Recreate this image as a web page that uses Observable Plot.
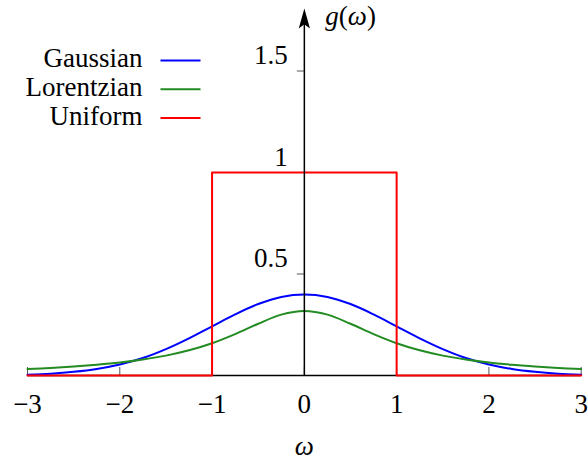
<!DOCTYPE html>
<html>
<head>
<meta charset="utf-8">
<script src="https://cdn.jsdelivr.net/npm/d3@7"></script>
<script src="https://cdn.jsdelivr.net/npm/@observablehq/plot@0.6"></script>
</head>
<body style="margin:0;background:#fff">
<div id="chart"></div>
<script>
// Sample frequencies and the three distributions g(ω)
const omega = [-3, -2.75, -2.5, -2.25, -2, -1.75, -1.5, -1.25, -1, -0.75, -0.5, -0.25, 0,
               0.25, 0.5, 0.75, 1, 1.25, 1.5, 1.75, 2, 2.25, 2.5, 2.75, 3];
const gaussian = [0.004, 0.009, 0.018, 0.032, 0.054, 0.086, 0.130, 0.183, 0.242, 0.301, 0.352, 0.387, 0.399,
                  0.387, 0.352, 0.301, 0.242, 0.183, 0.130, 0.086, 0.054, 0.032, 0.018, 0.009, 0.004];
const lorentzian = [0.032, 0.037, 0.044, 0.053, 0.064, 0.079, 0.098, 0.124, 0.159, 0.204, 0.255, 0.300, 0.318,
                    0.300, 0.255, 0.204, 0.159, 0.124, 0.098, 0.079, 0.064, 0.053, 0.044, 0.037, 0.032];
const uniformOmega = [-3, -1, -1, 1, 1, 3];
const uniform = [0, 0, 1, 1, 0, 0];

const xTicks = [-3, -2, -1, 0, 1, 2, 3];
const xTickLabels = ["−3", "−2", "−1", "0", "1", "2", "3"];
const yTicks = [0.5, 1, 1.5];
const yTickLabels = ["0.5", "1", "1.5"];
const yTop = 1.8;

const seriesNames = ["Gaussian", "Lorentzian", "Uniform"];
const seriesColors = ["#0000ff", "#228b22", "#ff0000"];

const rows = (xs, ys) => xs.map((x, i) => ({omega: x, g: ys[i]}));
const seriesData = [rows(omega, gaussian), rows(omega, lorentzian), rows(uniformOmega, uniform)];

// Filled arrowhead for the vertical axis (tip at the origin, pointing up)
const arrowHead = {
  draw(context, size) {
    const r = Math.sqrt(size / Math.PI);
    context.moveTo(0, 0);
    context.lineTo(r * 0.28, r);
    context.lineTo(0, r * 0.78);
    context.lineTo(-r * 0.28, r);
    context.closePath();
  }
};
// Short horizontal stroke used as a legend swatch
const swatch = {
  draw(context, size) {
    const r = Math.sqrt(size / Math.PI);
    context.moveTo(-r, 0);
    context.lineTo(r, 0);
  }
};

const labelFont = "Liberation Serif";
const labelSize = 27;

const legendMarks = seriesNames.flatMap((name, i) => [
  Plot.text([name], {
    frameAnchor: "top-left", dx: 115, dy: 56.4 + i * 29,
    text: d => d, textAnchor: "end", lineAnchor: "bottom",
    fontFamily: labelFont, fontSize: labelSize, fill: "#000"
  }),
  Plot.dot([name], {
    frameAnchor: "top-left", dx: 153, dy: 50.4 + i * 28.7,
    symbol: swatch, r: 20, fill: "none", stroke: seriesColors[i], strokeWidth: 2
  })
]);

const chart = Plot.plot({
  width: 588,
  height: 462,
  marginLeft: 27,
  marginRight: 7.3,
  marginTop: 9.6,
  marginBottom: 87,
  x: {domain: [-3, 3], axis: null},
  y: {domain: [0, yTop], axis: null},
  style: {fontSize: labelSize + "px", background: "#fff", overflow: "visible"},
  marks: [
    // tick marks
    Plot.ruleX(xTicks, {y1: 0, y2: 0, insetTop: -8, stroke: "#555", strokeWidth: 1}),
    Plot.ruleY(yTicks, {x1: 0, x2: 0, insetLeft: -7, stroke: "#555", strokeWidth: 1}),
    // horizontal axis
    Plot.ruleY([0], {stroke: "#000", strokeWidth: 1.5}),
    // distributions
    ...seriesData.map((data, i) => Plot.line(data, {
      x: "omega", y: "g", stroke: seriesColors[i], strokeWidth: 2,
      curve: i === 2 ? "linear" : "catmull-rom"
    })),
    // vertical axis with arrow
    Plot.ruleX([0], {y1: 0, y2: yTop - 0.05, stroke: "#000", strokeWidth: 1.5}),
    Plot.dot([yTop], {x: 0, y: d => d, dy: -1.5, symbol: arrowHead, r: 20, fill: "#000", stroke: "none"}),
    // tick labels
    Plot.text(xTicks, {x: d => d, y: 0, dy: 37, text: (d, i) => xTickLabels[i],
      textAnchor: "middle", lineAnchor: "bottom", fontFamily: labelFont, fontSize: labelSize, fill: "#000"}),
    Plot.text(yTicks, {x: 0, y: d => d, dx: -16.7, dy: -7, text: (d, i) => yTickLabels[i],
      textAnchor: "end", lineAnchor: "bottom", fontFamily: labelFont, fontSize: labelSize, fill: "#000"}),
    // axis labels
    Plot.text(["ω"], {x: 0, y: 0, dy: 79, text: d => d, textAnchor: "middle", lineAnchor: "bottom",
      fontFamily: labelFont, fontSize: labelSize, fontStyle: "italic", fill: "#000"}),
    Plot.text(["g(ω)"], {x: 0, y: yTop, dx: 21, dy: 15, text: d => d, textAnchor: "start",
      lineAnchor: "bottom", fontFamily: labelFont, fontSize: labelSize, fill: "#000"}),
    ...legendMarks
  ]
});

// Math-style label: italic symbols, upright parentheses
d3.select(chart).selectAll("text").filter(function () { return this.textContent === "g(ω)"; })
  .each(function () {
    const t = d3.select(this);
    t.text(null);
    [["g", "italic"], ["(", "normal"], ["ω", "italic"], [")", "normal"]].forEach(([s, st]) =>
      t.append("tspan").attr("font-style", st).text(s));
  });

document.getElementById("chart").appendChild(chart);

// Serif typeface on every label, resolved once the chart is in the page
chart.querySelectorAll("text").forEach(t => {
  t.style.fontFamily = labelFont;
  getComputedStyle(t).fontFamily;
});
</script>
</body>
</html>
